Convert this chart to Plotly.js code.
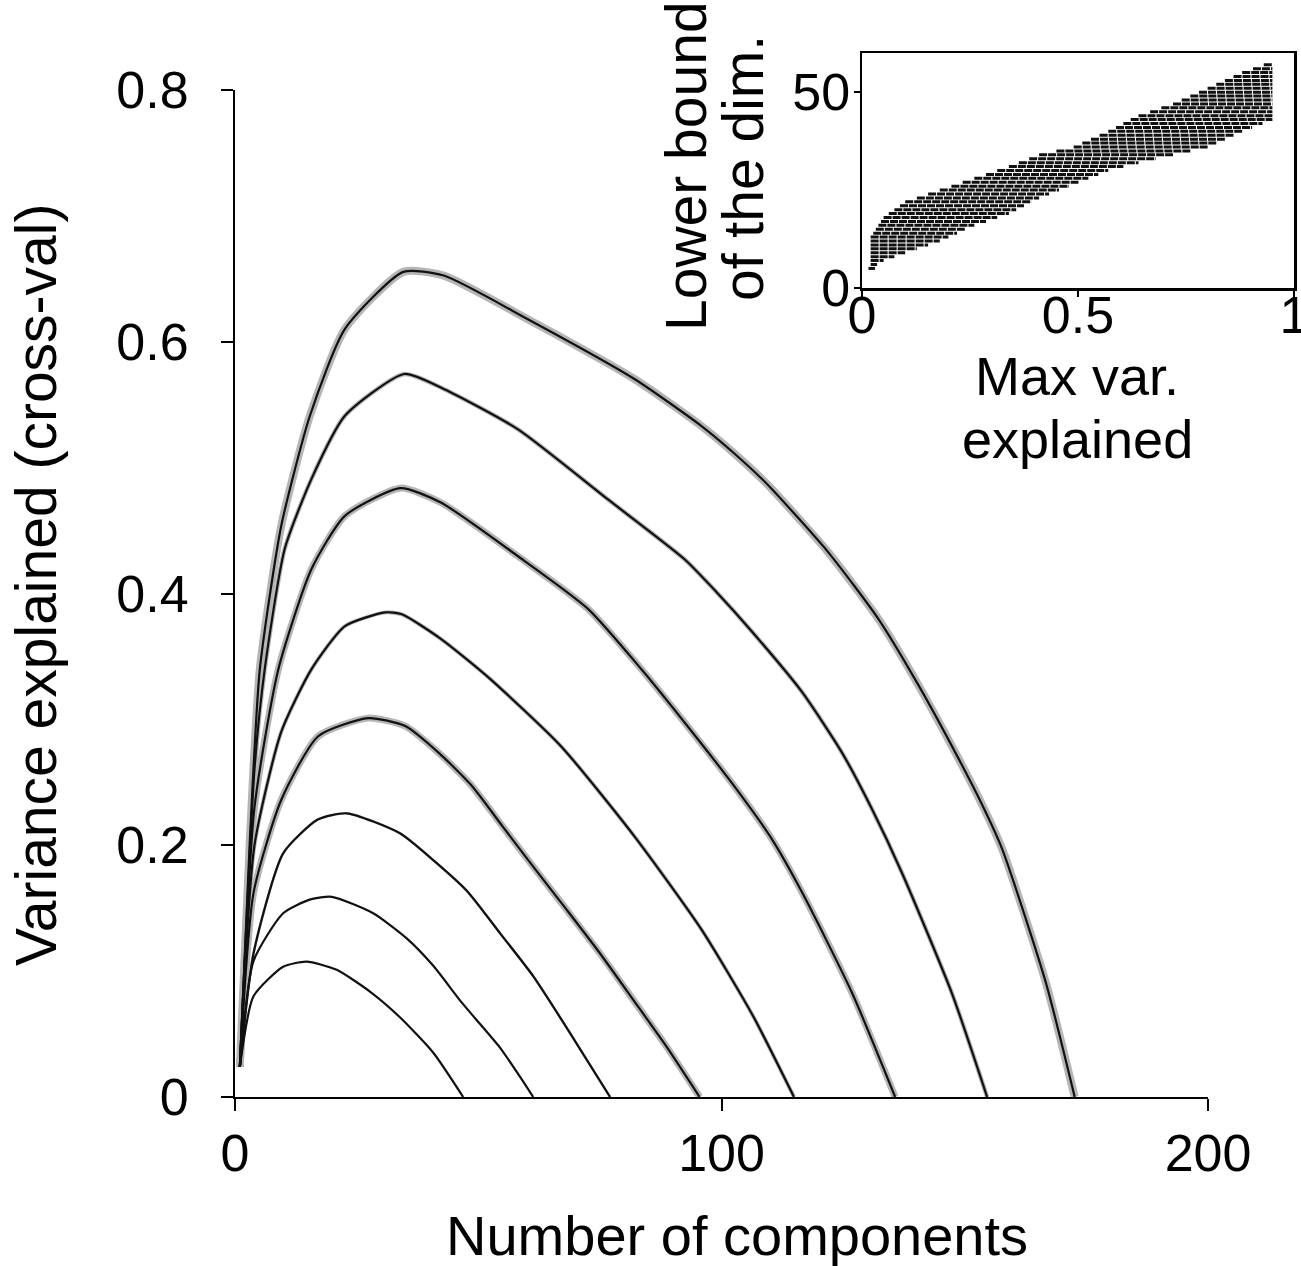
<!DOCTYPE html>
<html>
<head>
<meta charset="utf-8">
<script src="https://cdn.plot.ly/plotly-3.0.1.min.js"></script>
<style>html,body{margin:0;padding:0;background:#fff;}#chart{width:1301px;height:1266px;}</style>
</head>
<body>
<div id="chart"></div>
<script>
// ---- Main panel data: variance explained (cross-val) vs number of components ----
const curve1X = [1, 3.8, 9.9, 14.7, 20.9, 28, 34, 40.8, 46.9];
const curve1Y = [0.024, 0.080, 0.1035, 0.1075, 0.101, 0.083, 0.063, 0.035, 0];

const curve2X = [1, 3.8, 9.9, 15.5, 19.9, 28.4, 35.3, 40.8, 46.2, 49.7, 54.5, 58.6, 61.3];
const curve2Y = [0.024, 0.108, 0.146, 0.157, 0.159, 0.146, 0.126, 0.104, 0.077, 0.061, 0.039, 0.016, 0];

const curve3X = [1, 3.8, 9.9, 17, 23, 33.9, 40.8, 47.6, 54.5, 61.3, 69, 77.1];
const curve3Y = [0.024, 0.114, 0.1936, 0.2204, 0.2254, 0.2095, 0.188, 0.164, 0.13, 0.096, 0.05, 0];

const curve4X = [1, 3.8, 9.5, 17.1, 27.4, 35.0, 42, 48.5, 55, 61.3, 68.2, 75.0, 81.9, 88.7, 95.5];
const curve4Y = [0.024, 0.162, 0.236, 0.2866, 0.301, 0.2947, 0.273, 0.248, 0.215, 0.183, 0.1486, 0.1142, 0.077, 0.04, 0];

const curve5X = [1, 4, 9.5, 15.7, 22.6, 30.9, 34.3, 42.3, 51.9, 67.0, 82.1, 95.9, 106.4, 114.9];
const curve5Y = [0.024, 0.20, 0.29, 0.3397, 0.3741, 0.385, 0.3835, 0.364, 0.334, 0.2787, 0.2071, 0.133, 0.065, 0];

const curve6X = [1, 4, 8.9, 15.7, 22.6, 34.0, 42.3, 58.1, 72.5, 83.5, 96, 103, 110, 116.5, 126.8, 135.7];
const curve6Y = [0.024, 0.23, 0.3397, 0.4193, 0.4617, 0.4837, 0.4723, 0.4298, 0.388, 0.340, 0.280, 0.245, 0.207, 0.163, 0.083, 0];

const curve7X = [1, 4, 6.1, 10.2, 15.7, 22.6, 34.8, 42.9, 58.1, 76.6, 92.4, 99, 106.2, 116.5, 124.7, 130.9, 137.1, 147.4, 154.6];
const curve7Y = [0.024, 0.26, 0.3397, 0.4352, 0.4909, 0.5412, 0.5744, 0.5625, 0.5306, 0.4749, 0.4272, 0.401, 0.370, 0.322, 0.274, 0.229, 0.178, 0.082, 0];

const curve8X = [1, 3, 5.1, 9.5, 15.4, 22.6, 34.6, 42.9, 60.1, 82.1, 95.9, 102.7, 109.6, 122.0, 132.3, 140.6, 148.1, 153.6, 157.7, 166.7, 172.6];
const curve8Y = [0.024, 0.2, 0.3397, 0.4537, 0.5412, 0.6102, 0.6555, 0.6526, 0.6181, 0.5704, 0.533, 0.511, 0.486, 0.4325, 0.3795, 0.3264, 0.2734, 0.232, 0.197, 0.0905, 0];

// ---- Inset data: rows of points (lower bound of dimension, integer) and their max-var-explained extent ----
const insetDims = [5,6,7,8,9,10,11,12,13,14,15,16,17,18,19,20,21,22,23,24,25,26,27,28,29,30,31,32,33,34,35,36,37,38,39,40,41,42,43,44,45,46,47,48,49,50,51,52,53,54,55,56,57];
const insetRowStart = [0.015,0.02,0.02,0.02,0.02,0.02,0.02,0.02,0.02,0.026,0.032,0.038,0.044,0.05,0.062,0.075,0.088,0.10,0.127,0.153,0.18,0.207,0.233,0.26,0.287,0.313,0.34,0.363,0.387,0.41,0.45,0.49,0.51,0.53,0.55,0.57,0.588,0.605,0.622,0.64,0.667,0.693,0.72,0.74,0.76,0.78,0.80,0.82,0.84,0.86,0.88,0.905,0.93];
const insetRowEnd = [0.03,0.035,0.05,0.075,0.10,0.127,0.153,0.18,0.20,0.22,0.24,0.26,0.287,0.313,0.34,0.357,0.375,0.392,0.41,0.433,0.456,0.479,0.501,0.524,0.547,0.57,0.605,0.64,0.68,0.72,0.76,0.80,0.82,0.84,0.86,0.88,0.903,0.927,0.95,0.95,0.95,0.95,0.95,0.95,0.95,0.95,0.95,0.95,0.95,0.95,0.95,0.95,0.95];

// ---- Tick labels ----
const mainXTicks = [0, 100, 200];
const mainYTicks = [0, 0.2, 0.4, 0.6, 0.8];
const mainYTickText = ['0', '0.2', '0.4', '0.6', '0.8'];
const insetXTicks = [0, 0.5, 1];
const insetXTickText = ['0', '0.5', '1'];
const insetYTicks = [0, 50];

const curvesX = [curve1X, curve2X, curve3X, curve4X, curve5X, curve6X, curve7X, curve8X];
const curvesY = [curve1Y, curve2Y, curve3Y, curve4Y, curve5Y, curve6Y, curve7Y, curve8Y];
const haloWidths = [0, 0, 2.5, 7, 4, 7, 4.5, 8];

const W = 1301, H = 1266;
const FONT = 'Liberation Sans, Arial, Helvetica, sans-serif';

const traces = [];
curvesX.forEach((xs, i) => {
  if (haloWidths[i] > 0) {
    traces.push({x: xs, y: curvesY[i], type: 'scatter', mode: 'lines', xaxis: 'x', yaxis: 'y',
      line: {color: '#b5b5b5', width: haloWidths[i], shape: 'spline', smoothing: 0.6}, hoverinfo: 'skip', showlegend: false});
  }
});
curvesX.forEach((xs, i) => {
  traces.push({x: xs, y: curvesY[i], type: 'scatter', mode: 'lines', xaxis: 'x', yaxis: 'y',
    line: {color: '#111', width: 2.2, shape: 'spline', smoothing: 0.6}, name: 'curve ' + (i + 1), showlegend: false});
});

// inset rows as horizontal runs of points
const rx = [], ry = [];
insetDims.forEach((d, i) => {
  rx.push(insetRowStart[i], insetRowEnd[i], null);
  ry.push(d, d, null);
});
traces.push({x: rx, y: ry, type: 'scatter', mode: 'lines', xaxis: 'x2', yaxis: 'y2',
  line: {color: '#111', width: 3, dash: '8px,1px'}, showlegend: false, connectgaps: false});

const px = v => v / W;
const py = v => (H - v) / H;

const axisCommon = {
  showgrid: false, zeroline: false, showline: true, linecolor: '#000',
  ticks: 'outside', tickcolor: '#000', fixedrange: true,
  tickfont: {family: FONT, size: 52, color: '#000'}
};

const layout = {
  width: W, height: H,
  margin: {l: 0, r: 0, t: 0, b: 0, pad: 0},
  paper_bgcolor: '#fff', plot_bgcolor: 'rgba(0,0,0,0)',
  showlegend: false,
  font: {family: FONT, color: '#000'},
  xaxis: Object.assign({}, axisCommon, {
    domain: [px(235), px(1208)], range: [0, 200], anchor: 'y',
    tickvals: mainXTicks, ticktext: mainXTicks.map(String),
    ticklen: 12, tickwidth: 2, linewidth: 2, ticklabelstandoff: -2
  }),
  yaxis: Object.assign({}, axisCommon, {
    domain: [py(1097), py(90)], range: [0, 0.8], anchor: 'x',
    tickvals: mainYTicks, ticktext: mainYTickText,
    ticklen: 12, tickwidth: 2, linewidth: 2, ticklabelstandoff: 22
  }),
  xaxis2: Object.assign({}, axisCommon, {
    domain: [px(862), px(1294)], range: [0, 1], anchor: 'y2',
    tickvals: insetXTicks, ticktext: insetXTickText, ticklabeloverflow: 'allow',
    ticklen: 6, tickwidth: 2, linewidth: 2.5, mirror: true, ticklabelstandoff: -26
  }),
  yaxis2: Object.assign({}, axisCommon, {
    domain: [py(288), py(53)], range: [0, 60], anchor: 'x2',
    tickvals: insetYTicks, ticktext: insetYTicks.map(String),
    ticklen: 6, tickwidth: 2, linewidth: 2.5, mirror: true, ticklabelstandoff: -7
  }),
  annotations: [
    {text: 'Number of components', x: px(737), y: py(1235), xref: 'paper', yref: 'paper',
     xanchor: 'center', yanchor: 'middle', showarrow: false, font: {family: FONT, size: 56, color: '#000'}},
    {text: 'Variance explained (cross-val)', x: px(36), y: py(585), xref: 'paper', yref: 'paper',
     xanchor: 'center', yanchor: 'middle', textangle: -90, showarrow: false, font: {family: FONT, size: 57, color: '#000'}},
    {text: 'Lower bound', x: px(686), y: py(166), xref: 'paper', yref: 'paper',
     xanchor: 'center', yanchor: 'middle', textangle: -90, showarrow: false, font: {family: FONT, size: 57, color: '#000'}},
    {text: 'of the dim.', x: px(743), y: py(168), xref: 'paper', yref: 'paper',
     xanchor: 'center', yanchor: 'middle', textangle: -90, showarrow: false, font: {family: FONT, size: 57, color: '#000'}},
    {text: 'Max var.', x: px(1077), y: py(376), xref: 'paper', yref: 'paper',
     xanchor: 'center', yanchor: 'middle', showarrow: false, font: {family: FONT, size: 54, color: '#000'}},
    {text: 'explained', x: px(1077), y: py(439), xref: 'paper', yref: 'paper',
     xanchor: 'center', yanchor: 'middle', showarrow: false, font: {family: FONT, size: 54, color: '#000'}}
  ]
};

Plotly.newPlot('chart', traces, layout, {staticPlot: true, displayModeBar: false});
</script>
</body>
</html>
